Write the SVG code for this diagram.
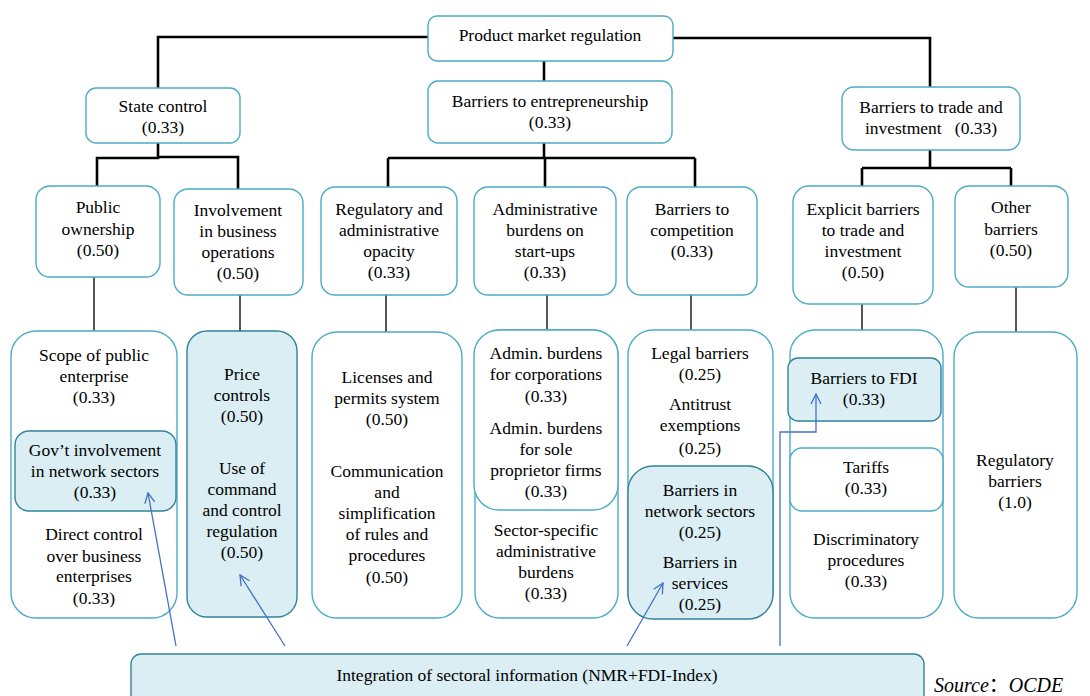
<svg xmlns="http://www.w3.org/2000/svg" width="1090" height="696" viewBox="0 0 1090 696" font-family="'Liberation Serif','DejaVu Serif','Times New Roman',serif">
<defs>
<style>
text{font-family:"Liberation Serif","DejaVu Serif","Times New Roman",serif;font-size:17.5px;fill:#000;text-anchor:middle}
.b{fill:#fff;stroke:#4bacc6;stroke-width:1.4}
.f{fill:#daeef3;stroke:#31849b;stroke-width:1.4}
.thick{fill:none;stroke:#000;stroke-width:2.6}
.thin{fill:none;stroke:#111;stroke-width:1.4}
.arr{fill:none;stroke:#4472c4;stroke-width:1.3}
.src{font-style:italic;font-size:20px;text-anchor:start}
</style>
<marker id="ah" viewBox="0 0 12 12" refX="11" refY="6" markerWidth="12" markerHeight="12" markerUnits="userSpaceOnUse" orient="auto">
<path d="M1,1 L11,6 L1,11" fill="none" stroke="#4472c4" stroke-width="1.3"/>
</marker>
</defs>
<rect width="1090" height="696" fill="#fff"/>

<g id="connectors">
<path class="thick" d="M428,37 H158 V88"/>
<path class="thick" d="M673,38 H930 V87"/>
<path class="thick" d="M544,61 V81"/>
<path class="thick" d="M158,143 V158 H97 V186 M158,157 H238 V189"/>
<path class="thick" d="M544,143 V158 M388,158 H695 M388,158 V187 M545,158 V187 M695,158 V187"/>
<path class="thick" d="M930,150 V168 M862,168 H1011 M862,168 V186 M1011,168 V186"/>
<path class="thin" d="M94,277 V331 M240,295 V331 M386,295 V332 M547,295 V330 M691,295 V330 M862,304 V330 M1016,287 V332"/>
</g>

<g id="pmr"><rect class="b" x="428" y="16" width="245" height="45" rx="9"/><text x="550" y="41">Product market regulation</text></g>
<g id="state-control"><rect class="b" x="86" y="88" width="154" height="55" rx="10"/><text x="163" y="112">State control</text><text x="163" y="133">(0.33)</text></g>
<g id="barriers-entrepreneurship"><rect class="b" x="428" y="81" width="244" height="62" rx="10"/><text x="550" y="107">Barriers to entrepreneurship</text><text x="550" y="128">(0.33)</text></g>
<g id="barriers-trade"><rect class="b" x="842" y="87" width="178" height="63" rx="12"/><text x="931" y="113">Barriers to trade and</text><text x="931" y="134" xml:space="preserve">investment   (0.33)</text></g>

<g id="public-ownership"><rect class="b" x="36" y="186" width="124" height="91" rx="14"/><text x="98" y="213">Public</text><text x="98" y="235">ownership</text><text x="98" y="256">(0.50)</text></g>
<g id="involvement"><rect class="b" x="174" y="189" width="129" height="106" rx="14"/><text x="238" y="216">Involvement</text><text x="238" y="237">in business</text><text x="238" y="258">operations</text><text x="238" y="279">(0.50)</text></g>
<g id="reg-opacity"><rect class="b" x="321" y="187" width="136" height="108" rx="14"/><text x="389" y="215">Regulatory and</text><text x="389" y="236">administrative</text><text x="389" y="257">opacity</text><text x="389" y="278">(0.33)</text></g>
<g id="admin-burdens"><rect class="b" x="474" y="187" width="142" height="108" rx="14"/><text x="545" y="215">Administrative</text><text x="545" y="236">burdens on</text><text x="545" y="257">start-ups</text><text x="545" y="278">(0.33)</text></g>
<g id="barriers-competition"><rect class="b" x="627" y="187" width="130" height="108" rx="14"/><text x="692" y="215">Barriers to</text><text x="692" y="236">competition</text><text x="692" y="257">(0.33)</text></g>
<g id="explicit-barriers"><rect class="b" x="793" y="186" width="140" height="118" rx="16"/><text x="863" y="215">Explicit barriers</text><text x="863" y="236">to trade and</text><text x="863" y="257">investment</text><text x="863" y="278">(0.50)</text></g>
<g id="other-barriers"><rect class="b" x="955" y="186" width="113" height="101" rx="14"/><text x="1011" y="213">Other</text><text x="1011" y="235">barriers</text><text x="1011" y="256">(0.50)</text></g>

<g id="box-public"><rect class="b" x="11" y="331" width="166" height="287" rx="25"/>
<text x="94" y="361">Scope of public</text><text x="94" y="382">enterprise</text><text x="94" y="403">(0.33)</text>
<rect class="f" x="15" y="431" width="161" height="80" rx="14"/>
<text x="95" y="456">Gov’t involvement</text><text x="95" y="477">in network sectors</text><text x="95" y="498">(0.33)</text>
<text x="94" y="540">Direct control</text><text x="94" y="562">over business</text><text x="94" y="582">enterprises</text><text x="94" y="604">(0.33)</text></g>

<g id="box-involvement"><rect class="f" x="187" y="331" width="110" height="286" rx="20"/>
<text x="242" y="380">Price</text><text x="242" y="401">controls</text><text x="242" y="422">(0.50)</text>
<text x="242" y="474">Use of</text><text x="242" y="495">command</text><text x="242" y="516">and control</text><text x="242" y="537">regulation</text><text x="242" y="558">(0.50)</text></g>

<g id="box-opacity"><rect class="b" x="312" y="332" width="150" height="286" rx="25"/>
<text x="387" y="383">Licenses and</text><text x="387" y="404">permits system</text><text x="387" y="425">(0.50)</text>
<text x="387" y="477">Communication</text><text x="387" y="498">and</text><text x="387" y="519">simplification</text><text x="387" y="540">of rules and</text><text x="387" y="561">procedures</text><text x="387" y="583">(0.50)</text></g>

<g id="box-admin"><rect class="b" x="475" y="330" width="143" height="288" rx="25"/>
<rect class="b" x="474" y="330" width="144" height="180" rx="25"/>
<text x="546" y="359">Admin. burdens</text><text x="546" y="380">for corporations</text><text x="546" y="402">(0.33)</text>
<text x="546" y="434">Admin. burdens</text><text x="546" y="455">for sole</text><text x="546" y="476">proprietor firms</text><text x="546" y="497">(0.33)</text>
<text x="546" y="536">Sector-specific</text><text x="546" y="557">administrative</text><text x="546" y="578">burdens</text><text x="546" y="599">(0.33)</text></g>

<g id="box-competition"><rect class="b" x="628" y="330" width="145" height="288" rx="25"/>
<text x="700" y="359">Legal barriers</text><text x="700" y="380">(0.25)</text>
<text x="700" y="410">Antitrust</text><text x="700" y="431">exemptions</text><text x="700" y="454">(0.25)</text>
<rect class="f" x="628" y="466" width="145" height="153" rx="25"/>
<text x="700" y="496">Barriers in</text><text x="700" y="517">network sectors</text><text x="700" y="538">(0.25)</text>
<text x="700" y="568">Barriers in</text><text x="700" y="589">services</text><text x="700" y="610">(0.25)</text></g>

<g id="box-trade"><rect class="b" x="790" y="330" width="153" height="288" rx="25"/>
<rect class="f" x="788" y="358" width="153" height="63" rx="10"/>
<text x="864" y="384">Barriers to FDI</text><text x="864" y="405">(0.33)</text>
<rect class="b" x="790" y="448" width="153" height="63" rx="12"/>
<text x="866" y="473">Tariffs</text><text x="866" y="494">(0.33)</text>
<text x="866" y="545">Discriminatory</text><text x="866" y="566">procedures</text><text x="866" y="587">(0.33)</text></g>

<g id="box-other"><rect class="b" x="954" y="332" width="123" height="286" rx="25"/>
<text x="1015" y="466">Regulatory</text><text x="1015" y="487">barriers</text><text x="1015" y="508">(1.0)</text></g>

<g id="integration"><rect class="f" x="131" y="654" width="793" height="70" rx="10"/>
<text x="527" y="681">Integration of sectoral information (NMR+FDI-Index)</text></g>

<g id="arrows">
<path class="arr" d="M176,646 L148,493" marker-end="url(#ah)"/>
<path class="arr" d="M285,646 L240,575" marker-end="url(#ah)"/>
<path class="arr" d="M627,646 L663,583" marker-end="url(#ah)"/>
<path class="arr" d="M780,646 V432 H816 V394" marker-end="url(#ah)"/>
</g>

<text class="src" x="934" y="692">Source<tspan font-family="'Noto Sans CJK SC',sans-serif" font-style="normal">：</tspan>OCDE</text>
</svg>
